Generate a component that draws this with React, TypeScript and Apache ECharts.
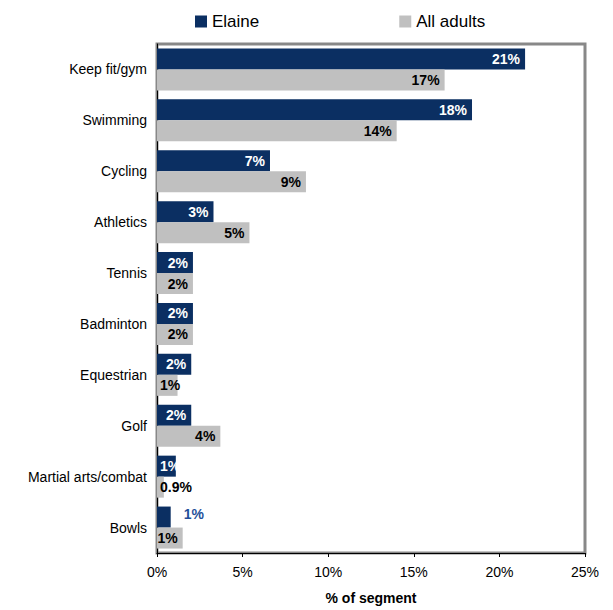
import React, { useEffect, useRef } from 'react';
import * as echarts from 'echarts';

const categories = ['Keep fit/gym', 'Swimming', 'Cycling', 'Athletics', 'Tennis', 'Badminton', 'Equestrian', 'Golf', 'Martial arts/combat', 'Bowls'];
const elaine = [21.5, 18.4, 6.6, 3.3, 2.1, 2.1, 2.0, 2.0, 1.1, 0.8];
const elaineLabels = ['21%', '18%', '7%', '3%', '2%', '2%', '2%', '2%', '1%', '1%'];
const adults = [16.8, 14.0, 8.7, 5.4, 2.1, 2.1, 1.2, 3.7, 0.4, 1.5];
const adultLabels = ['17%', '14%', '9%', '5%', '2%', '2%', '1%', '4%', '0.9%', '1%'];

const App: React.FC = () => {
  const chartRef = useRef<HTMLDivElement>(null);

  useEffect(() => {
    document.body.style.margin = '0';
    if (!chartRef.current) return;
    const chart = echarts.init(chartRef.current, undefined, { renderer: 'svg' });
    const font = 'Liberation Sans, Arial, sans-serif';

    const labelFor = (v: number, i: number, labels: string[], color: string) => {
      if (v < 1.5) {
        return { value: v, label: { position: 'insideLeft', offset: [-2, 0], color, formatter: labels[i] } };
      }
      return { value: v, label: { position: 'insideRight', color, formatter: labels[i] } };
    };

    chart.setOption({
      animation: false,
      textStyle: { fontFamily: font },
      legend: {
        top: 8,
        left: 190,
        itemGap: 140,
        itemWidth: 12,
        itemHeight: 12,
        icon: 'rect',
        textStyle: { fontSize: 17, color: '#000', fontFamily: font },
        data: ['Elaine', 'All adults']
      },
      grid: { left: 157, right: 28, top: 44, bottom: 52, show: true, borderColor: '#888', borderWidth: 3 },
      xAxis: {
        type: 'value',
        min: 0,
        max: 25,
        interval: 5,
        name: '% of segment',
        nameLocation: 'middle',
        nameGap: 38,
        nameTextStyle: { fontWeight: 'bold', fontSize: 14, color: '#000' },
        axisLabel: { formatter: '{value}%', fontSize: 14, color: '#000', margin: 12 },
        axisLine: { show: true, lineStyle: { color: '#000' } },
        axisTick: { show: true, length: 4, lineStyle: { color: '#000' } },
        splitLine: { show: false }
      },
      yAxis: {
        type: 'category',
        inverse: true,
        data: categories,
        axisLabel: { fontSize: 14, color: '#000', margin: 10 },
        axisLine: { show: true, lineStyle: { color: '#000' } },
        axisTick: { show: false }
      },
      series: [
        {
          name: 'Elaine',
          type: 'bar',
          barWidth: 21,
          barGap: '0%',
          itemStyle: { color: '#0b2f62' },
          label: { show: true, fontSize: 14, fontWeight: 'bold', color: '#fff' },
          data: elaine.map((v, i) =>
            i === 9
              ? { value: v, label: { position: 'right', offset: [8, -3], color: '#1f4f9a', formatter: elaineLabels[i] } }
              : labelFor(v, i, elaineLabels, '#fff')
          )
        },
        {
          name: 'All adults',
          type: 'bar',
          barWidth: 21,
          itemStyle: { color: '#c0c0c0' },
          label: { show: true, fontSize: 14, fontWeight: 'bold', color: '#000' },
          data: adults.map((v, i) => labelFor(v, i, adultLabels, '#000'))
        }
      ]
    });

    return () => chart.dispose();
  }, []);

  return <div ref={chartRef} style={{ width: '613px', height: '610px' }} />;
};

export default App;
